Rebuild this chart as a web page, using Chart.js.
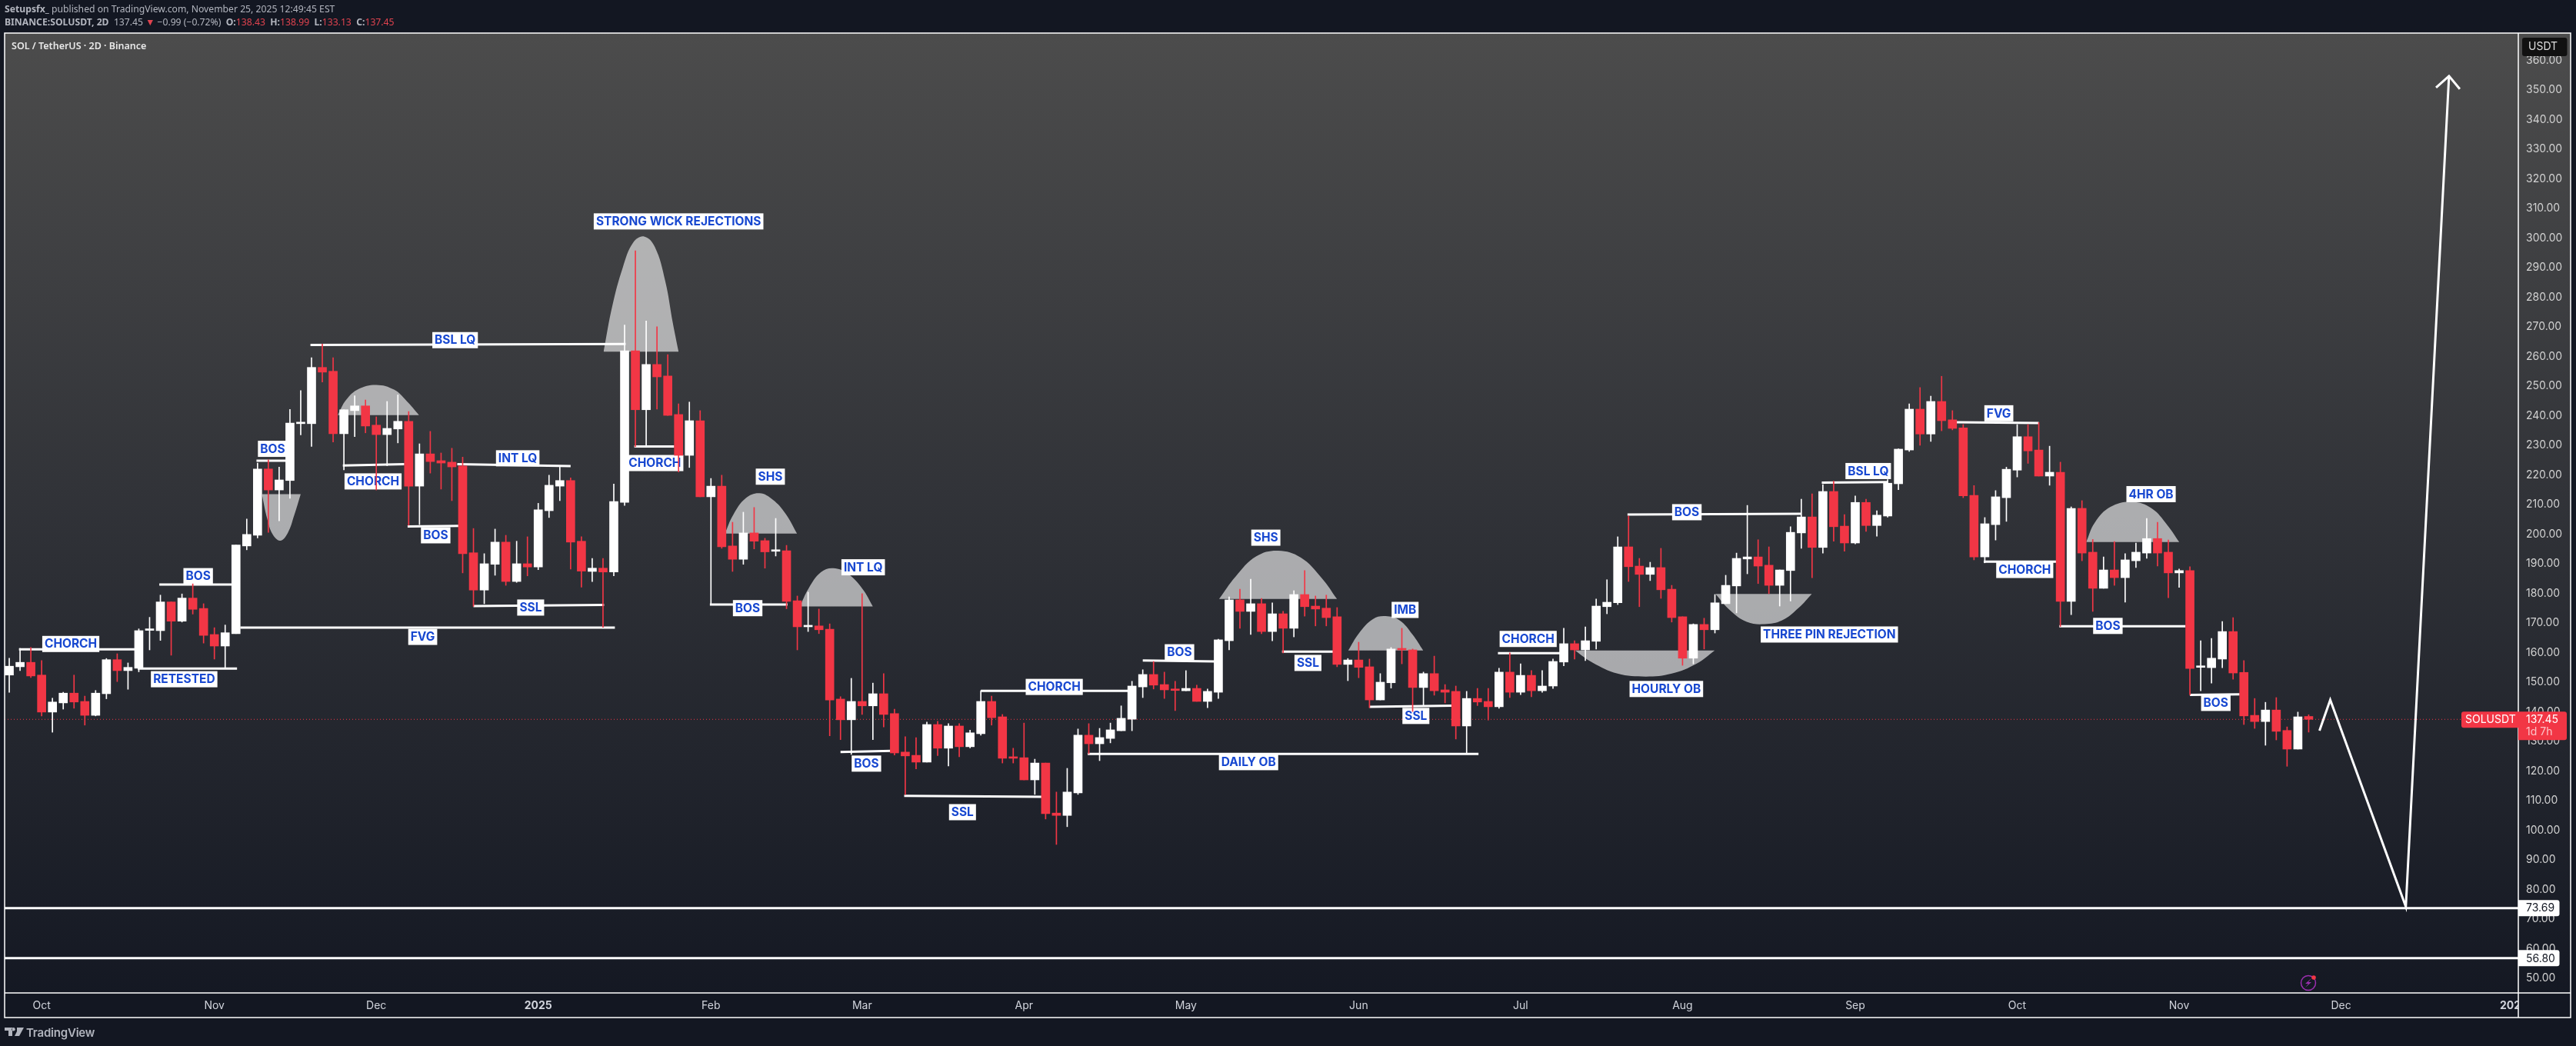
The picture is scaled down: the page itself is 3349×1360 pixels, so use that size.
<!DOCTYPE html>
<html>
<head>
<meta charset="utf-8">
<title>SOLUSDT 2D</title>
<script src="https://cdn.jsdelivr.net/npm/chart.js@4"></script>
<style>
html, body { margin: 0; padding: 0; background: #131722; }
body { width: 3349px; height: 1360px; position: relative; overflow: hidden; }
canvas { position: absolute; left: 0; top: 0; }
.txt { position: absolute; white-space: pre; font-family: "Noto Sans", sans-serif; font-size: 12.2px; color: #b2b5be; line-height: 16px; }
.txt b { font-weight: 700; color: #b2b5be; }
.txt i { font-style: normal; color: #e0434f; }
#title { left: 15px; top: 52px; color: #e8e8e8; font-weight: 600; font-size: 12.5px; }
#brand { left: 34px; top: 1334px; font-family: Inter, sans-serif; font-weight: 600; font-size: 15px; line-height: 18px; color: #b2b5be; letter-spacing: -0.2px; }
#logo { position: absolute; left: 6px; top: 1335px; }
</style>
</head>
<body>
<canvas id="myChart" width="3349" height="1360"></canvas>
<div class="txt" style="left:6px;top:4px"><b>Setupsfx_</b> published on TradingView.com, November 25, 2025 12:49:45 EST</div>
<div class="txt" style="left:6px;top:21px"><b>BINANCE:SOLUSDT, 2D</b>  137.45 <i>▼</i> −0.99 (−0.72%)  <b>O:</b><i>138.43</i>  <b>H:</b><i>138.99</i>  <b>L:</b><i>133.13</i>  <b>C:</b><i>137.45</i></div>
<div class="txt" id="title">SOL / TetherUS · 2D · Binance</div>
<svg id="logo" width="26" height="14" viewBox="0 0 26 14"><path fill="#b2b5be" d="M0 1h10v11H5V5H0zM16 1h9l-6 11h-6l3-6zM11.5 1a2.3 2.3 0 1 0 .01 0z"/></svg>
<div class="txt" id="brand">TradingView</div>
<script>
const opens = [
152.4,155.2,156.7,152.4,139.9,143.0,146.3,143.5,138.8,146.1,
157.6,153.9,154.7,167.5,167.4,177.1,170.6,178.4,174.9,166.1,
162.2,166.4,196.0,199.6,222.0,214.9,218.1,237.3,237.3,256.3,
255.0,233.9,241.7,243.3,236.8,233.6,235.5,238.1,216.2,227.1,
224.8,224.3,223.0,193.7,181.1,189.8,197.3,184.0,190.0,188.9,
207.9,216.2,218.1,197.6,187.4,188.5,187.2,210.7,261.9,242.0,
257.3,253.4,240.4,226.6,238.3,212.6,216.2,196.0,191.5,200.4,
197.8,194.2,194.4,177.5,168.7,169.0,167.9,144.3,137.3,143.5,
142.0,146.1,139.4,126.4,125.3,123.0,135.7,127.7,135.2,128.2,
132.6,143.5,138.3,124.5,124.5,117.0,122.7,105.8,105.0,112.6,
132.1,129.2,131.0,133.6,137.5,148.4,152.6,149.2,147.7,147.1,
147.9,143.5,146.6,164.0,177.8,173.9,176.5,167.1,173.1,168.2,
179.6,175.7,175.0,172.1,156.0,157.5,155.2,144.0,149.8,161.2,
160.9,148.2,152.9,147.4,146.9,135.2,144.5,143.5,141.7,153.4,
146.6,152.3,147.1,148.7,156.8,163.0,160.9,163.8,175.5,176.8,
195.7,189.2,186.4,188.7,181.4,172.1,158.1,169.5,167.7,176.5,
182.5,191.6,192.3,189.5,182.7,187.7,200.4,205.8,195.5,214.4,
202.7,197.0,210.7,202.9,206.1,217.0,228.4,242.2,233.8,244.8,
238.6,235.9,213.1,192.3,203.2,212.3,221.6,232.9,228.4,219.6,
220.9,177.3,208.7,193.9,181.7,187.9,185.3,191.0,193.6,198.5,
193.9,186.9,187.7,155.0,154.9,157.8,167.1,153.3,138.8,136.7,
140.6,133.7,127.4,138.43
];
const closes = [
155.4,156.7,152.1,139.9,143.3,146.3,143.3,138.8,146.3,157.6,
153.9,155.0,167.4,167.7,177.1,170.6,178.4,174.6,165.8,162.2,
166.7,196.3,199.9,222.0,214.9,218.3,237.5,237.4,256.3,254.7,
233.9,242.0,243.3,236.5,233.6,235.7,238.1,216.2,227.1,224.5,
224.0,222.7,193.4,181.1,190.0,197.3,184.0,190.0,188.9,208.2,
216.5,218.1,197.3,187.5,188.5,187.2,211.0,261.9,242.0,257.3,
253.1,240.1,226.6,238.3,212.6,216.2,195.7,191.5,200.4,197.6,
194.0,194.4,177.3,168.7,169.0,167.7,144.0,137.3,143.5,142.0,
146.1,139.1,126.1,125.1,123.0,135.7,127.7,135.2,128.2,132.9,
143.5,138.0,124.3,124.3,117.0,122.7,105.6,105.0,112.9,132.1,
129.2,131.3,133.9,137.8,148.7,152.6,149.0,147.4,147.2,147.9,
143.5,146.9,164.3,177.8,173.9,176.5,167.1,173.1,168.2,179.6,
175.5,174.7,171.8,156.0,157.5,155.0,144.0,150.0,161.2,160.9,
148.2,152.9,147.1,146.6,135.2,144.5,143.3,141.7,153.4,146.6,
152.3,147.1,148.7,157.0,163.0,160.9,164.0,175.7,177.0,195.7,
189.0,186.4,188.7,181.2,171.8,158.1,169.5,167.7,176.8,182.7,
191.8,192.3,189.2,182.7,187.9,200.6,205.8,195.5,214.4,202.5,
197.0,210.7,202.9,206.4,217.2,228.7,242.2,233.8,244.8,238.3,
235.7,212.9,192.3,203.5,212.6,221.9,232.9,228.1,219.6,220.9,
177.3,208.7,193.6,181.7,187.9,185.3,191.3,193.9,198.5,193.6,
186.9,187.7,154.6,155.2,158.1,167.1,153.1,138.6,136.7,140.6,
133.4,127.4,138.3,137.45
];
const highs = [
158.1,161.4,161.7,157.3,144.6,146.6,152.4,145.3,147.2,158.0,
159.6,156.5,168.0,171.9,179.4,177.1,179.8,183.2,176.5,168.4,
169.3,196.3,205.1,224.0,225.1,222.6,242.1,248.5,259.6,264.2,
259.6,242.0,246.7,245.3,239.6,244.8,247.0,241.4,230.5,234.7,
227.4,229.0,226.0,201.9,193.4,201.7,199.6,197.6,199.1,210.4,
219.9,222.6,219.0,199.1,191.8,191.8,216.9,270.6,295.7,272.0,
270.0,260.6,244.0,244.6,241.7,218.8,219.9,204.0,207.4,209.0,
198.6,205.3,196.2,179.1,180.4,174.7,169.7,145.1,151.3,179.9,
149.7,152.9,140.9,131.6,131.3,136.5,136.8,136.0,136.0,133.8,
147.1,145.3,139.1,127.7,136.2,124.0,122.7,112.9,120.9,134.2,
136.0,134.4,136.2,142.0,150.3,154.2,157.0,153.4,150.3,153.9,
149.0,147.7,164.5,178.8,181.4,184.8,178.3,176.8,173.9,180.9,
187.7,179.1,179.4,175.2,158.0,163.5,157.8,152.9,161.7,168.2,
161.2,153.4,158.8,149.2,148.7,146.9,147.9,147.9,154.7,159.9,
156.2,153.9,153.9,157.8,168.2,164.0,168.7,178.1,184.6,199.1,
206.1,191.8,190.5,195.2,182.7,172.1,169.7,171.6,179.6,186.1,
193.6,209.7,198.1,195.7,187.9,202.5,211.8,213.6,216.7,217.9,
206.6,212.9,211.8,207.9,218.4,228.8,244.0,249.5,246.6,253.3,
241.7,237.0,216.4,205.6,214.7,222.6,237.0,237.0,237.7,229.7,
224.3,209.2,211.3,198.2,192.3,197.5,193.4,197.0,205.3,204.0,
198.0,188.2,189.0,164.0,164.8,170.5,171.8,157.3,144.5,143.2,
144.8,134.9,139.9,138.99
];
const lows = [
146.6,153.9,151.6,138.6,133.1,140.9,141.2,135.5,138.6,144.4,
150.2,147.6,153.5,160.9,164.1,159.1,170.3,173.0,163.2,157.8,
154.6,166.4,194.7,198.7,200.6,204.5,212.1,233.5,229.6,251.4,
231.1,221.7,232.9,234.2,214.9,223.1,230.8,203.0,203.2,220.6,
215.2,211.3,186.9,175.6,176.5,186.1,182.7,183.7,185.9,188.0,
205.6,211.3,188.2,182.1,184.0,168.5,185.9,209.7,229.5,229.9,
242.2,240.1,221.0,222.5,212.6,176.1,195.2,187.4,189.8,195.0,
188.5,192.6,174.8,160.9,167.1,166.4,131.9,130.6,125.6,139.1,
130.6,134.9,125.4,112.0,120.7,123.0,125.2,121.7,124.8,127.8,
132.1,135.5,122.7,122.7,117.0,112.1,103.8,95.2,101.2,112.1,
125.8,123.5,129.5,133.6,133.6,144.8,147.7,144.5,140.4,147.1,
143.5,141.4,144.5,160.9,168.2,166.1,166.4,164.0,159.9,165.3,
172.3,169.0,169.0,155.2,150.5,151.5,141.4,144.0,148.0,156.2,
140.1,142.0,145.6,143.0,130.8,126.1,142.1,137.2,141.2,144.8,
145.8,145.1,146.6,147.9,155.5,157.8,157.3,161.2,173.1,176.2,
184.0,175.5,184.3,178.3,170.3,155.7,156.2,161.2,166.6,176.5,
173.4,186.6,183.3,179.9,175.7,177.4,195.2,185.3,193.6,197.6,
194.2,196.7,200.9,199.3,205.7,215.0,227.9,230.0,231.3,234.9,
235.2,212.3,191.3,190.3,198.0,204.3,219.3,223.9,219.6,216.5,
168.8,172.8,191.0,173.9,181.7,182.7,177.0,188.7,191.8,189.2,
178.5,182.0,145.7,147.1,149.7,154.9,151.0,135.7,134.4,128.7,
130.5,121.6,127.4,133.13
];

const lastPrice = 137.45;
const yTicks = [50,60,70,80,90,100,110,120,130,140,150,160,170,180,190,200,210,220,230,240,250,260,270,280,290,300,310,320,330,340,350,360];
const xTickBars = [3,19,34,49,65,79,94,109,125,140,155,171,186,201,216,232];
const xTickLabels = ['Oct','Nov','Dec','2025','Feb','Mar','Apr','May','Jun','Jul','Aug','Sep','Oct','Nov','Dec','2026'];

// drawn levels: bar1, price1, bar2, price2
const levelLines = [
[0.9,161.1,11.8,161.1],[11.9,154.6,21.1,154.6],[13.9,183,20.7,183],[22.9,224.8,25.7,224.8],
[27.9,263.9,57.1,264.2],[30.9,223.2,36.6,223.6],[41.5,223.6,52,223],[36.9,202.6,41.7,202.8],
[43,175.7,55.1,176.1],[21.4,168.4,56.1,168.4],[57.9,229.6,61.6,229.6],[64.9,176.2,72.1,176.2],
[77,126.4,81.7,126.8],[82.9,111.6,95.7,111.3],[90,147.1,103.7,147.1],[99.9,125.8,136.1,125.8],
[105,157.3,111.7,157],[117.9,160.3,122.8,160.3],[126,141.7,133.7,142.1],[137.9,159.8,143.8,159.8],
[149.9,206.6,166,206.9],[167.9,217.4,174,217.6],[180.4,237.8,188,237.5],[182.9,190.7,189.7,190.7],
[189.9,168.9,201.6,168.9],[202,145.7,206.6,145.9]
];
const longLevels = [73.69, 56.80];
const pathX = [214, 215, 222, 226];
const pathY = [133.6, 144, 74.2, 354.7];
const arrowX = [224.8, 226, 227];
const arrowY = [350.8, 354.7, 350.3];

// gray humps, bar/price outline and the price they close on
const humps = [
{base:213.5, x:[23.4,23.9,24.4,25.1,25.8,26.4,27.0], y:[213.5,205.1,199.9,197.8,200.4,206.4,213.5]},
{base:240.2, x:[30.43,31.2,32.36,34,35.64,36.8,37.96], y:[240.2,245.3,249,250.4,248.8,245,240.2]},
{base:261.6, x:[55.05,55.86,56.83,57.79,58.8,59.8,60.77,61.46,62], y:[261.6,277,290,298.4,300.5,297,285.4,271.5,261.6]},
{base:200.2, x:[66.29,67.06,68.22,69.5,70.73,71.89,72.97], y:[200.2,206.5,212.1,213.8,211.6,207,200.2]},
{base:175.6, x:[73.24,74.02,75.18,76.33,77.69,79.04,80], y:[175.6,181.5,187.1,188.5,186.6,181.5,175.6]},
{base:178.1, x:[112.07,113.58,115.52,117.55,119.62,121.57,122.99], y:[178.1,185.6,192.5,194.4,192.1,185.2,178.1]},
{base:160.7, x:[124.03,125.02,126.32,127.48,128.78,129.99,130.98], y:[160.7,166.5,171.3,172.3,170.9,166.1,160.7]},
{base:160.7, x:[145.04,146.66,148.98,151.6,154,156.32,157.98], y:[160.7,156.6,152.9,151.9,152.9,156.3,160.7]},
{base:179.8, x:[158.05,159.4,160.95,162.57,164.23,165.78,166.98], y:[179.8,174.3,170.4,169.6,170.9,175.2,179.8]},
{base:197.3, x:[192.39,193.19,194.64,196.64,198.46,199.92,201.01], y:[197.3,203.9,209.2,210.9,208.7,203,197.3]}
];

const noteTexts = ['CHORCH','RETESTED','BOS','BOS','BSL LQ','CHORCH','INT LQ','BOS','SSL','FVG','STRONG WICK REJECTIONS','CHORCH','SHS','BOS','INT LQ','BOS','SSL','CHORCH','DAILY OB','BOS','SHS','SSL','IMB','SSL','CHORCH','HOURLY OB','BOS','THREE PIN REJECTION','BSL LQ','FVG','CHORCH','4HR OB','BOS','BOS'];
const noteBars = [5.7,16.2,17.5,24.4,41.3,33.7,47.1,39.5,48.3,38.3,62,59.8,70.5,68.4,79.1,79.4,88.3,96.8,114.8,108.4,116.4,120.3,129.3,130.3,140.7,153.5,155.4,168.6,172.2,184.3,186.7,198.4,194.4,204.4];
const notePrices = [162.9,151,185.8,228.8,265.5,217.8,225.6,199.6,175.2,165.3,305.6,224,219.4,175,188.8,122.5,106.1,148.4,123,160.1,198.8,156.5,174.4,138.6,164.6,147.7,207.4,166.1,221.3,240.8,187.9,213.5,169,143];

const upColor = '#ffffff';
const downColor = '#f23645';
const candleColors = opens.map((o, i) => closes[i] >= o ? upColor : downColor);

const levelPoints = [];
levelLines.forEach(l => {
    levelPoints.push({x: l[0], y: l[1]}, {x: l[2], y: l[3]}, {x: l[2], y: null});
});

const xMin = -0.43, xMax = 232.42, yMin = 45.06, yMax = 369.2;

const datasets = [];
humps.forEach(h => {
    datasets.push({
        type: 'line',
        data: h.x.map((v, i) => ({x: v, y: h.y[i]})),
        borderWidth: 0,
        pointRadius: 0,
        tension: 0.4,
        fill: {value: h.base},
        backgroundColor: 'rgba(255,255,255,0.6)',
        order: 10
    });
});
datasets.push({type: 'line', data: levelPoints, borderColor: '#fff', borderWidth: 3, pointRadius: 0, spanGaps: false, order: 9});
longLevels.forEach(v => {
    datasets.push({type: 'line', data: [{x: xMin, y: v}, {x: xMax, y: v}], borderColor: '#fff', borderWidth: 3, pointRadius: 0, order: 9});
});
datasets.push({type: 'line', data: [{x: xMin, y: lastPrice}, {x: xMax, y: lastPrice}], borderColor: downColor, borderWidth: 1, borderDash: [1, 3], pointRadius: 0, order: 8});
const wickIndex = datasets.length;
datasets.push({
    type: 'bar',
    data: opens.map((o, i) => ({x: i, y: [lows[i], highs[i]]})),
    backgroundColor: candleColors,
    barThickness: 1,
    grouped: false,
    order: 7
});
datasets.push({
    type: 'bar',
    data: opens.map((o, i) => ({x: i, y: [o, closes[i]]})),
    backgroundColor: candleColors,
    barThickness: 11,
    minBarLength: 2,
    grouped: false,
    order: 6
});
datasets.push({type: 'line', data: pathX.map((v, i) => ({x: v, y: pathY[i]})), borderColor: '#fff', borderWidth: 3, pointRadius: 0, order: 5});
datasets.push({type: 'line', data: arrowX.map((v, i) => ({x: v, y: arrowY[i]})), borderColor: '#fff', borderWidth: 3, pointRadius: 0, order: 5});

function roundBox(ctx, x, y, w, h, r, fill) {
    ctx.fillStyle = fill;
    ctx.beginPath();
    ctx.roundRect(x, y, w, h, r);
    ctx.fill();
}

const panelBackground = {
    id: 'panelBackground',
    beforeDraw(chart) {
        const ctx = chart.ctx, a = chart.chartArea;
        ctx.save();
        ctx.fillStyle = '#131722';
        ctx.fillRect(0, 0, chart.width, chart.height);
        const g = ctx.createLinearGradient(0, a.top, 0, chart.scales.x.bottom);
        g.addColorStop(0, '#4c4c4c');
        g.addColorStop(1, '#131722');
        ctx.fillStyle = g;
        ctx.fillRect(a.left, a.top, chart.scales.y.right - a.left, a.height);
        ctx.restore();
    }
};

const noteBoxes = {
    id: 'noteBoxes',
    beforeDatasetDraw(chart, args) {
        if (args.index !== wickIndex) return;
        const ctx = chart.ctx;
        ctx.save();
        ctx.font = '700 15.5px Inter, sans-serif';
        ctx.textAlign = 'center';
        ctx.textBaseline = 'middle';
        noteTexts.forEach((t, i) => {
            const x = chart.scales.x.getPixelForValue(noteBars[i]);
            const y = chart.scales.y.getPixelForValue(notePrices[i]);
            const w = ctx.measureText(t).width + 6;
            ctx.fillStyle = '#ffffff';
            ctx.fillRect(x - w / 2, y - 10.5, w, 21);
            ctx.fillStyle = '#1848d0';
            ctx.fillText(t, x, y + 0.5);
        });
        ctx.restore();
    }
};

const frameAndTags = {
    id: 'frameAndTags',
    afterDraw(chart) {
        const ctx = chart.ctx, a = chart.chartArea, sx = chart.scales.x, sy = chart.scales.y;
        const right = sy.right, bottom = sx.bottom;
        ctx.save();
        // the time axis stops at the price panel
        ctx.fillStyle = '#131722';
        ctx.fillRect(a.right, a.bottom, right - a.right, bottom - a.bottom);
        ctx.strokeStyle = '#ffffff';
        ctx.lineWidth = 1.5;
        ctx.strokeRect(a.left, a.top, right - a.left, bottom - a.top);
        ctx.beginPath();
        ctx.moveTo(a.right, a.top);
        ctx.lineTo(a.right, bottom);
        ctx.moveTo(a.left, a.bottom);
        ctx.lineTo(right, a.bottom);
        ctx.stroke();

        ctx.textBaseline = 'middle';
        ctx.textAlign = 'left';
        ctx.font = '14px Inter, sans-serif';

        roundBox(ctx, a.right + 5, 49, 58.5, 24, 3, '#111111');
        ctx.fillStyle = '#dddddd';
        ctx.fillText('USDT', a.right + 13, 61);

        const py = sy.getPixelForValue(lastPrice);
        roundBox(ctx, 3200, py - 10, 74, 21, [3, 0, 0, 3], downColor);
        roundBox(ctx, a.right, py - 10, 63, 37, [0, 3, 3, 0], downColor);
        ctx.fillStyle = '#ffffff';
        ctx.fillText('SOLUSDT', 3205, py + 0.5);
        ctx.fillText(lastPrice.toFixed(2), a.right + 10, py + 0.5);
        ctx.fillStyle = 'rgba(255,255,255,0.7)';
        ctx.fillText('1d 7h', a.right + 10, py + 17);

        longLevels.forEach(v => {
            const y = sy.getPixelForValue(v);
            roundBox(ctx, a.right, y - 10.5, 53.5, 21, [0, 3, 3, 0], '#ffffff');
            ctx.fillStyle = '#131722';
            ctx.fillText(v.toFixed(2), a.right + 10, y + 0.5);
        });

        // alert badge
        ctx.strokeStyle = '#9c2fb0';
        ctx.lineWidth = 1.5;
        ctx.beginPath();
        ctx.arc(3001, 1278, 9.5, 0, Math.PI * 2);
        ctx.stroke();
        ctx.fillStyle = '#9c2fb0';
        ctx.beginPath();
        ctx.moveTo(3005, 1272);
        ctx.lineTo(2997, 1279);
        ctx.lineTo(3001, 1279);
        ctx.lineTo(2997, 1284);
        ctx.lineTo(3005, 1277);
        ctx.lineTo(3001, 1277);
        ctx.closePath();
        ctx.fill();
        ctx.fillStyle = downColor;
        ctx.beginPath();
        ctx.arc(3008, 1271, 2.8, 0, Math.PI * 2);
        ctx.fill();
        ctx.restore();
    }
};

const myChart = new Chart(document.getElementById('myChart').getContext('2d'), {
    type: 'bar',
    data: {datasets: datasets},
    plugins: [panelBackground, noteBoxes, frameAndTags],
    options: {
        responsive: false,
        animation: false,
        devicePixelRatio: 1,
        layout: {padding: {left: 6, top: 43, right: 7, bottom: 37}},
        plugins: {legend: {display: false}, tooltip: {enabled: false}},
        scales: {
            x: {
                type: 'linear',
                min: xMin,
                max: xMax,
                offset: false,
                afterFit(s) { s.height = 32; },
                afterBuildTicks(s) { s.ticks = xTickBars.map(v => ({value: v})); },
                grid: {display: false, drawTicks: false},
                border: {display: false},
                ticks: {
                    autoSkip: false,
                    maxRotation: 0,
                    padding: 8,
                    color: '#d1d4dc',
                    font: ctx => ({family: 'Inter, sans-serif', size: 14, weight: xTickLabels[ctx.index] === '2025' || xTickLabels[ctx.index] === '2026' ? '700' : '400'}),
                    callback: (v, i) => xTickLabels[i]
                }
            },
            y: {
                position: 'right',
                min: yMin,
                max: yMax,
                afterFit(s) { s.width = 68; },
                afterBuildTicks(s) { s.ticks = yTicks.map(v => ({value: v})); },
                grid: {display: false, drawTicks: false},
                border: {display: false},
                ticks: {
                    autoSkip: false,
                    padding: 10,
                    crossAlign: 'near',
                    color: '#d1d1d1',
                    font: {family: 'Inter, sans-serif', size: 14},
                    callback: v => v.toFixed(2)
                }
            }
        }
    }
});
</script>
</body>
</html>
